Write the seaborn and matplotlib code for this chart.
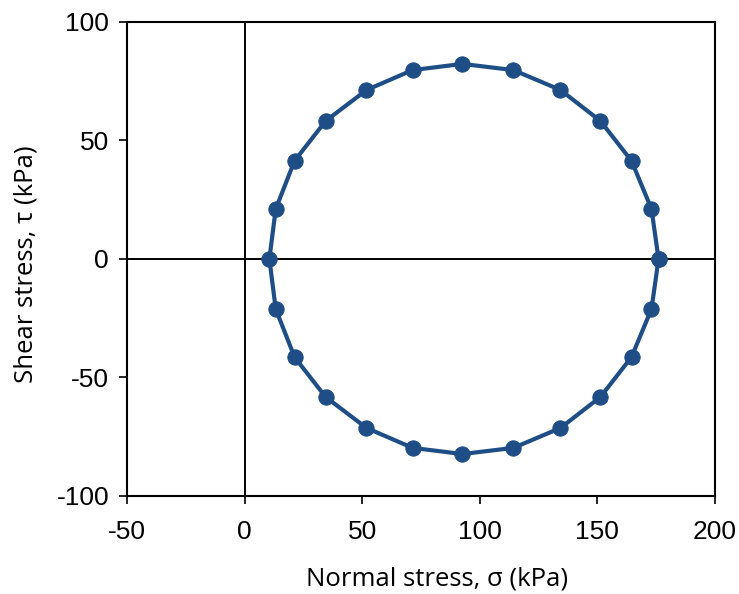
import matplotlib
matplotlib.use("Agg")
import matplotlib.pyplot as plt
import seaborn as sns
import pandas as pd

# Mohr circle points (going round the circle)
sigma = [176.0, 173.0, 164.5, 151.3, 134.3, 114.3, 92.6, 71.4, 51.8, 34.4, 21.2, 13.2, 10.5,
         13.2, 21.2, 34.4, 51.8, 71.4, 92.6, 114.3, 134.3, 151.3, 164.5, 173.0, 176.0]
tau = [0.0, 21.1, 41.4, 58.2, 71.3, 79.7, 82.3, 79.7, 71.3, 58.2, 41.4, 21.1, 0.0,
       -21.1, -41.4, -58.2, -71.3, -79.7, -82.3, -79.7, -71.3, -58.2, -41.4, -21.1, 0.0]
x_ticks = [-50, 0, 50, 100, 150, 200]
y_ticks = [-100, -50, 0, 50, 100]

df = pd.DataFrame({"sigma": sigma, "tau": tau})

sns.set_style("white")
plt.rcParams['font.family'] = ['Liberation Sans', 'DejaVu Sans']
plt.rcParams['axes.unicode_minus'] = False
plt.rcParams['text.color'] = 'black'
plt.rcParams['axes.labelcolor'] = 'black'

fig = plt.figure(figsize=(7.39, 5.94), dpi=100)
ax = fig.add_axes([0.172, 0.165, 0.7955, 0.798])

color = '#1F4E87'
sns.lineplot(data=df, x="sigma", y="tau", sort=False, estimator=None, ax=ax,
             color=color, linewidth=3, marker='o', markersize=11,
             markeredgecolor=color, markerfacecolor=color)

ax.axhline(0, color='black', linewidth=1.4, zorder=1)
ax.axvline(0, color='black', linewidth=1.4, zorder=1)

ax.set_xlim(x_ticks[0], x_ticks[-1])
ax.set_ylim(y_ticks[0], y_ticks[-1])
ax.set_xticks(x_ticks)
ax.set_yticks(y_ticks)
ax.set_xticklabels([str(v) for v in x_ticks])
ax.set_yticklabels([str(v) for v in y_ticks])
ax.tick_params(direction='out', length=6, width=1.2, colors='black',
               labelsize=19, bottom=True, left=True)
ax.tick_params(axis='x', pad=11)
ax.tick_params(axis='y', pad=7)
for s in ax.spines.values():
    s.set_color('black')
    s.set_linewidth(1.5)

ax.set_xlabel('Normal stress, σ (kPa)', fontsize=18.5, family=['Open Sans', 'DejaVu Sans'])
ax.set_ylabel('Shear stress, τ (kPa)', fontsize=18.5, family=['Open Sans', 'DejaVu Sans'])
ax.xaxis.set_label_coords(0.527, -0.148)
ax.yaxis.set_label_coords(-0.150, 0.49)

fig.savefig('out.png', dpi=100)
